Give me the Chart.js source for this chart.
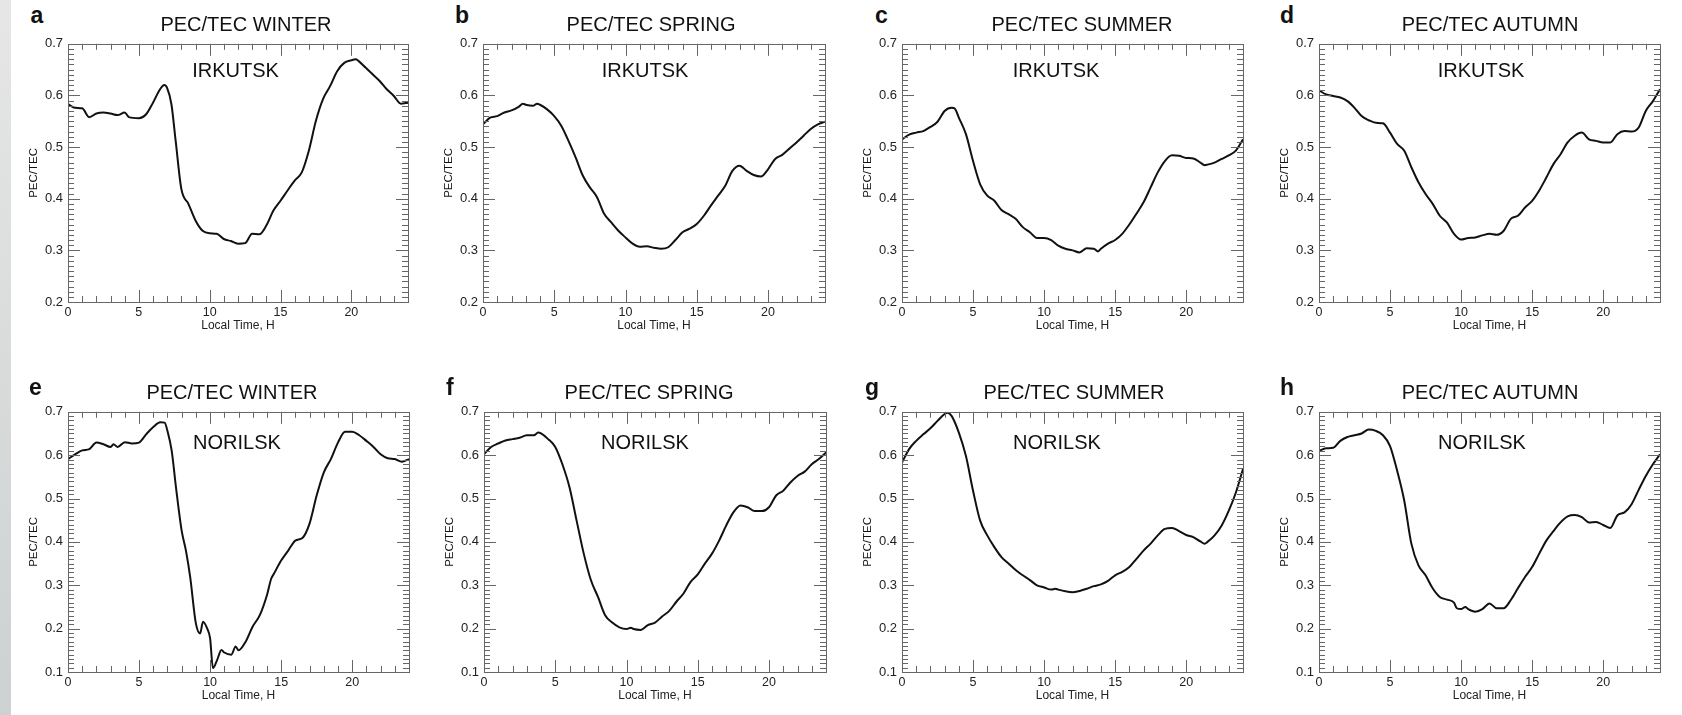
<!DOCTYPE html>
<html><head><meta charset="utf-8">
<script src="https://cdn.jsdelivr.net/npm/chart.js@4.4.1/dist/chart.umd.min.js"></script>
<style>
html,body{margin:0;padding:0;background:#fff;}
#page{position:relative;width:1682px;height:715px;overflow:hidden;font-family:"Liberation Sans",Arial,Helvetica,sans-serif;color:#111;background:#fff;}
#strip{position:absolute;left:0;top:0;width:11px;height:715px;background:linear-gradient(#e6e6e6,#cdd1d1);}
canvas{position:absolute;}
.lbl{position:absolute;line-height:1;white-space:nowrap;transform:translate(-50%,-50%);font-size:20px;}
.letter{position:absolute;font-size:23px;font-weight:bold;line-height:1;}
</style></head><body><div id="page"><div id="strip"></div></div>
<script>
// ---- data (hour, PEC/TEC) ----
const xTicks = [0, 5, 10, 15, 20];
const irkYTicks = [0.2, 0.3, 0.4, 0.5, 0.6, 0.7];
const norYTicks = [0.1, 0.2, 0.3, 0.4, 0.5, 0.6, 0.7];

const irkWinter = [[0,0.583],[0.5,0.576],[1,0.575],[1.5,0.558],[2,0.565],[2.5,0.567],[3,0.565],[3.5,0.562],[4,0.567],[4.3,0.558],[5,0.556],[5.5,0.563],[6,0.586],[6.5,0.612],[6.8,0.620],[7,0.614],[7.3,0.583],[7.6,0.512],[8,0.419],[8.5,0.390],[9,0.358],[9.5,0.338],[10,0.333],[10.5,0.332],[11,0.322],[11.5,0.318],[12,0.313],[12.5,0.314],[13,0.332],[13.5,0.331],[14,0.348],[14.5,0.377],[15,0.396],[15.5,0.416],[16,0.435],[16.5,0.451],[17,0.493],[17.5,0.551],[18,0.593],[18.5,0.618],[19,0.647],[19.5,0.663],[20,0.668],[20.3,0.670],[20.5,0.667],[21,0.654],[21.5,0.641],[22,0.628],[22.5,0.612],[23,0.599],[23.5,0.584],[24,0.586]];

const irkSpring = [[0,0.544],[0.5,0.557],[1,0.560],[1.5,0.567],[2,0.571],[2.5,0.578],[2.8,0.584],[3,0.582],[3.5,0.580],[3.8,0.584],[4,0.582],[4.5,0.573],[5,0.560],[5.5,0.541],[6,0.512],[6.5,0.480],[7,0.445],[7.5,0.422],[8,0.403],[8.5,0.371],[9,0.354],[9.5,0.338],[10,0.325],[10.5,0.313],[11,0.307],[11.5,0.308],[12,0.305],[12.5,0.303],[13,0.306],[13.5,0.320],[14,0.335],[14.5,0.342],[15,0.351],[15.5,0.367],[16,0.387],[16.5,0.406],[17,0.425],[17.5,0.454],[18,0.464],[18.5,0.454],[19,0.446],[19.5,0.443],[20,0.457],[20.5,0.477],[21,0.485],[21.5,0.497],[22,0.509],[22.5,0.522],[23,0.535],[23.5,0.544],[24,0.549]];

const irkSummer = [[0,0.515],[0.5,0.524],[1,0.528],[1.5,0.531],[2,0.539],[2.5,0.549],[3,0.570],[3.5,0.576],[3.7,0.575],[4,0.557],[4.5,0.525],[5,0.473],[5.5,0.428],[6,0.406],[6.5,0.396],[7,0.378],[7.5,0.370],[8,0.361],[8.5,0.345],[9,0.335],[9.5,0.324],[10,0.324],[10.5,0.320],[11,0.309],[11.5,0.303],[12,0.300],[12.5,0.296],[13,0.304],[13.5,0.303],[13.8,0.298],[14,0.303],[14.5,0.313],[15,0.320],[15.5,0.332],[16,0.350],[16.5,0.371],[17,0.393],[17.5,0.422],[18,0.451],[18.5,0.473],[19,0.484],[19.5,0.483],[20,0.479],[20.5,0.478],[21,0.470],[21.3,0.465],[21.5,0.466],[22,0.470],[22.5,0.477],[23,0.484],[23.5,0.493],[24,0.515]];

const irkAutumn = [[0,0.610],[0.5,0.602],[1,0.599],[1.5,0.596],[2,0.589],[2.5,0.576],[3,0.560],[3.5,0.552],[4,0.547],[4.5,0.546],[5,0.528],[5.5,0.506],[6,0.493],[6.5,0.461],[7,0.432],[7.5,0.409],[8,0.390],[8.5,0.367],[9,0.354],[9.5,0.332],[10,0.321],[10.5,0.324],[11,0.325],[11.5,0.329],[12,0.332],[12.5,0.330],[13,0.338],[13.5,0.361],[14,0.367],[14.5,0.383],[15,0.396],[15.5,0.416],[16,0.441],[16.5,0.467],[17,0.486],[17.5,0.509],[18,0.522],[18.5,0.528],[19,0.515],[19.5,0.512],[20,0.509],[20.5,0.509],[21,0.525],[21.5,0.531],[22,0.530],[22.5,0.538],[23,0.570],[23.5,0.589],[24,0.612]];

const norWinter = [[0,0.591],[0.5,0.602],[1,0.611],[1.5,0.614],[2,0.629],[2.5,0.625],[3,0.619],[3.2,0.625],[3.5,0.619],[4,0.630],[4.5,0.627],[5,0.629],[5.5,0.648],[6,0.665],[6.5,0.676],[6.8,0.675],[7,0.656],[7.3,0.610],[7.6,0.526],[8,0.426],[8.3,0.380],[8.6,0.319],[9,0.212],[9.3,0.189],[9.5,0.216],[9.8,0.200],[10,0.178],[10.2,0.109],[10.5,0.128],[10.8,0.151],[11,0.145],[11.5,0.140],[11.8,0.159],[12,0.150],[12.5,0.170],[13,0.205],[13.5,0.231],[14,0.277],[14.3,0.315],[14.5,0.327],[15,0.357],[15.5,0.380],[16,0.403],[16.5,0.409],[17,0.442],[17.5,0.507],[18,0.560],[18.5,0.591],[19,0.629],[19.5,0.654],[20,0.654],[20.5,0.646],[21,0.633],[21.5,0.619],[22,0.602],[22.5,0.593],[23,0.591],[23.5,0.585],[24,0.591]];

const norSpring = [[0,0.602],[0.5,0.619],[1,0.627],[1.5,0.634],[2,0.637],[2.5,0.640],[3,0.646],[3.5,0.646],[3.8,0.652],[4,0.650],[4.5,0.637],[5,0.619],[5.5,0.579],[6,0.526],[6.5,0.449],[7,0.373],[7.5,0.312],[8,0.273],[8.5,0.231],[9,0.214],[9.5,0.203],[10,0.199],[10.3,0.202],[10.5,0.199],[11,0.197],[11.5,0.208],[12,0.214],[12.5,0.228],[13,0.241],[13.5,0.262],[14,0.281],[14.5,0.308],[15,0.325],[15.5,0.350],[16,0.373],[16.5,0.403],[17,0.438],[17.5,0.468],[18,0.484],[18.5,0.480],[19,0.471],[19.5,0.471],[20,0.480],[20.5,0.507],[21,0.518],[21.5,0.537],[22,0.552],[22.5,0.562],[23,0.579],[23.5,0.591],[24,0.606]];

const norSummer = [[0,0.583],[0.5,0.614],[1,0.633],[1.5,0.648],[2,0.662],[2.5,0.679],[3,0.695],[3.2,0.698],[3.5,0.690],[4,0.652],[4.5,0.598],[5,0.518],[5.5,0.449],[6,0.415],[6.5,0.388],[7,0.365],[7.5,0.350],[8,0.335],[8.5,0.323],[9,0.312],[9.5,0.300],[10,0.295],[10.5,0.290],[10.8,0.292],[11,0.290],[11.5,0.286],[12,0.284],[12.5,0.287],[13,0.292],[13.5,0.298],[14,0.302],[14.5,0.310],[15,0.323],[15.5,0.331],[16,0.342],[16.5,0.361],[17,0.380],[17.5,0.396],[18,0.415],[18.5,0.430],[19,0.432],[19.5,0.425],[20,0.416],[20.5,0.411],[21,0.401],[21.3,0.396],[21.5,0.400],[22,0.415],[22.5,0.438],[23,0.472],[23.5,0.514],[24,0.568]];

const norAutumn = [[0,0.610],[0.5,0.616],[1,0.617],[1.5,0.633],[2,0.642],[2.5,0.646],[3,0.650],[3.5,0.659],[4,0.656],[4.5,0.646],[5,0.621],[5.5,0.564],[6,0.495],[6.5,0.396],[7,0.346],[7.5,0.323],[8,0.293],[8.5,0.273],[9,0.267],[9.5,0.260],[9.7,0.247],[10,0.245],[10.3,0.250],[10.5,0.245],[11,0.239],[11.5,0.245],[12,0.258],[12.5,0.247],[13,0.247],[13.5,0.266],[14,0.293],[14.5,0.319],[15,0.342],[15.5,0.373],[16,0.403],[16.5,0.425],[17,0.445],[17.5,0.459],[18,0.462],[18.5,0.457],[19,0.445],[19.5,0.446],[20,0.439],[20.5,0.432],[21,0.461],[21.5,0.468],[22,0.487],[22.5,0.520],[23,0.552],[23.5,0.579],[24,0.602]];

// ---- layout ----
const FF = '"Liberation Sans", Arial, Helvetica, sans-serif';
const panels = [
  {letter:'a', title:'PEC/TEC WINTER', station:'IRKUTSK', data:irkWinter, yTicks:irkYTicks, plot:[68,408,43,302],  titleC:[246,24],   stationC:[235.5,69.5], letterXY:[30.5,3.5]},
  {letter:'b', title:'PEC/TEC SPRING', station:'IRKUTSK', data:irkSpring, yTicks:irkYTicks, plot:[483,825,43,302], titleC:[651,24],   stationC:[645,69.5],   letterXY:[455,3.5]},
  {letter:'c', title:'PEC/TEC SUMMER', station:'IRKUTSK', data:irkSummer, yTicks:irkYTicks, plot:[902,1243,43,302],titleC:[1082,24],  stationC:[1056,69.5],  letterXY:[875,3.5]},
  {letter:'d', title:'PEC/TEC AUTUMN', station:'IRKUTSK', data:irkAutumn, yTicks:irkYTicks, plot:[1319,1660,43,302],titleC:[1490,24], stationC:[1481,69.5],  letterXY:[1280,3.5]},
  {letter:'e', title:'PEC/TEC WINTER', station:'NORILSK', data:norWinter, yTicks:norYTicks, plot:[68,409,411,672], titleC:[232,391.5], stationC:[237,441.5],  letterXY:[29,375.5]},
  {letter:'f', title:'PEC/TEC SPRING', station:'NORILSK', data:norSpring, yTicks:norYTicks, plot:[484,826,411,672],titleC:[649,391.5], stationC:[645,441.5],  letterXY:[446,375.5]},
  {letter:'g', title:'PEC/TEC SUMMER', station:'NORILSK', data:norSummer, yTicks:norYTicks, plot:[902,1243,411,672],titleC:[1074,391.5],stationC:[1057,441.5], letterXY:[865,375.5]},
  {letter:'h', title:'PEC/TEC AUTUMN', station:'NORILSK', data:norAutumn, yTicks:norYTicks, plot:[1319,1660,411,672],titleC:[1490,391.5],stationC:[1482,441.5],letterXY:[1280,375.5]}
];

// inward IDL-style tick marks on all four sides
const frameTicks = {
  id: 'frameTicks',
  afterDraw(chart) {
    const {ctx, chartArea: a, scales: {x, y}} = chart;
    ctx.save();
    ctx.strokeStyle = '#666';
    ctx.lineWidth = 1;
    ctx.beginPath();
    for (let h = Math.ceil(x.min); h <= x.max; h++) {
      if (h === x.min || h === x.max) continue;
      const px = Math.round(x.getPixelForValue(h)) + 0.5;
      const len = (h % 5 === 0) ? 12 : 6;
      ctx.moveTo(px, a.bottom); ctx.lineTo(px, a.bottom - len);
      ctx.moveTo(px, a.top); ctx.lineTo(px, a.top + len);
    }
    const i0 = Math.round(y.min * 100), i1 = Math.round(y.max * 100);
    for (let i = i0 + 1; i < i1; i++) {
      const py = Math.round(y.getPixelForValue(i / 100)) + 0.5;
      const len = (i % 10 === 0) ? 12 : 6;
      ctx.moveTo(a.left, py); ctx.lineTo(a.left + len, py);
      ctx.moveTo(a.right, py); ctx.lineTo(a.right - len, py);
    }
    ctx.stroke();
    ctx.strokeRect(Math.round(a.left) + 0.5, Math.round(a.top) + 0.5, Math.round(a.right - a.left), Math.round(a.bottom - a.top));
    ctx.restore();
  }
};

const page = document.getElementById('page');
function addDiv(cls, text, css) {
  const d = document.createElement('div');
  d.className = cls; d.textContent = text;
  Object.assign(d.style, css);
  page.appendChild(d);
}

panels.forEach(p => {
  const [L, R, T, B] = p.plot;
  const padL = 60, padT = 12, padR = 12, padB = 42;
  const w = R - L + padL + padR, h = B - T + padT + padB;
  const cv = document.createElement('canvas');
  cv.width = w; cv.height = h;
  cv.style.left = (L - padL) + 'px'; cv.style.top = (T - padT) + 'px';
  cv.style.width = w + 'px'; cv.style.height = h + 'px';
  page.appendChild(cv);

  new Chart(cv, {
    type: 'line',
    data: { datasets: [{
      data: p.data.map(([hr, v]) => ({x: hr, y: v})),
      borderColor: '#111', borderWidth: 2, pointRadius: 0,
      cubicInterpolationMode: 'monotone', fill: false
    }]},
    options: {
      responsive: false, animation: false, devicePixelRatio: 1, events: [],
      layout: { padding: { left: 0, top: padT, right: padR, bottom: 0 } },
      plugins: { legend: { display: false }, tooltip: { enabled: false } },
      scales: {
        x: {
          type: 'linear', min: 0, max: 24,
          grid: { display: false, drawTicks: false }, border: { display: false },
          afterBuildTicks: s => { s.ticks = xTicks.map(v => ({value: v})); },
          afterFit: s => { s.height = padB; },
          ticks: { color: '#222', font: { size: 12.5, family: FF }, padding: 3, maxRotation: 0, autoSkip: false, callback: v => String(v) },
          title: { display: true, text: 'Local Time, H', color: '#222', font: { size: 12, family: FF }, padding: { top: 0, bottom: 11 } }
        },
        y: {
          type: 'linear', min: p.yTicks[0], max: p.yTicks[p.yTicks.length - 1],
          grid: { display: false, drawTicks: false }, border: { display: false },
          afterBuildTicks: s => { s.ticks = p.yTicks.map(v => ({value: v})); },
          afterFit: s => { s.width = padL; },
          ticks: { color: '#222', font: { size: 13, family: FF }, padding: 5, autoSkip: false, callback: v => Number(v).toFixed(1) },
          title: { display: true, text: 'PEC/TEC', color: '#111', font: { size: 11.5, family: FF }, padding: { top: 19, bottom: 0 } }
        }
      }
    },
    plugins: [frameTicks]
  });

  addDiv('lbl', p.title, { left: p.titleC[0] + 'px', top: p.titleC[1] + 'px' });
  addDiv('lbl', p.station, { left: p.stationC[0] + 'px', top: p.stationC[1] + 'px' });
  addDiv('letter', p.letter, { left: p.letterXY[0] + 'px', top: p.letterXY[1] + 'px' });
});
</script>
</body></html>
